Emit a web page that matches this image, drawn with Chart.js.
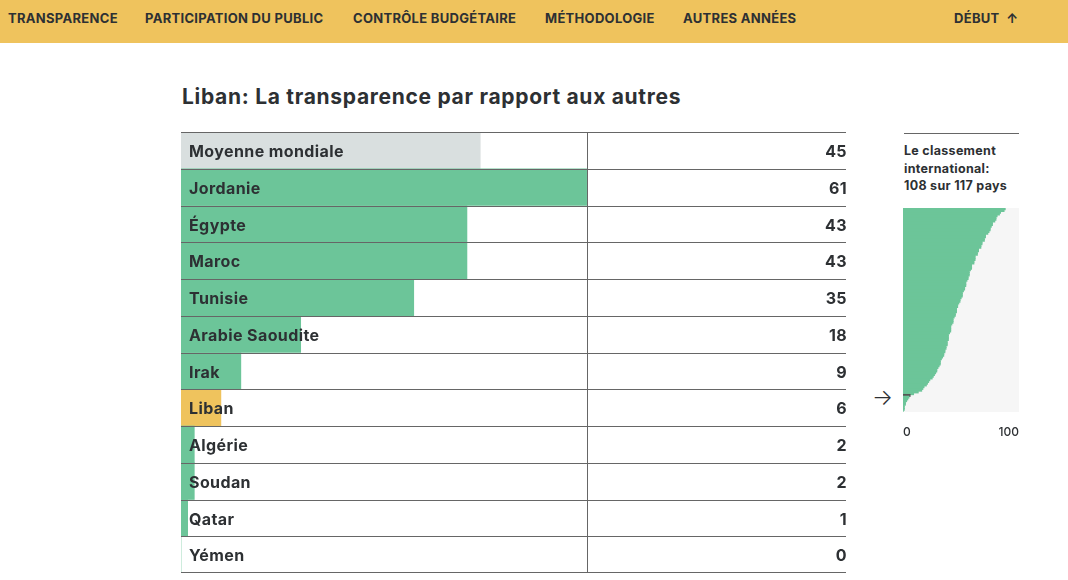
<!DOCTYPE html>
<html lang="fr">
<head>
<meta charset="utf-8">
<title>Liban: La transparence par rapport aux autres</title>
<script src="https://cdn.jsdelivr.net/npm/chart.js@4.4.1/dist/chart.umd.min.js"></script>
<style>
  html, body { margin:0; padding:0; background:#fff; width:1068px; height:580px; overflow:hidden; }
  body { font-family: Inter, "Open Sans", sans-serif; color:#2d3033; position:relative; }
  .nav { position:absolute; left:0; top:0; width:1068px; height:43px; background:#efc35d; }
  .nav span { position:absolute; top:11px; font-size:13px; font-weight:700; letter-spacing:0.3px; line-height:15px; white-space:nowrap; }
  h2 { position:absolute; left:182px; top:84px; margin:0; font-size:21px; font-weight:700; line-height:26px; letter-spacing:0.7px; white-space:nowrap; }
  #mainWrap { position:absolute; left:181px; top:132px; width:665px; height:441px; }
  #miniWrap { position:absolute; left:903px; top:208px; width:116px; height:234px; }
  .miniTitle { position:absolute; left:904px; top:133px; width:115px; border-top:1px solid #666; padding-top:8px; font-size:12.5px; font-weight:700; line-height:17.5px; letter-spacing:0.3px; white-space:nowrap; }
  .arrow { position:absolute; left:872px; top:384px; font-size:22px; font-weight:300; line-height:26px; }
</style>
</head>
<body>
<div class="nav">
  <span style="left:8px">TRANSPARENCE</span>
  <span style="left:145px">PARTICIPATION DU PUBLIC</span>
  <span style="left:353px">CONTRÔLE BUDGÉTAIRE</span>
  <span style="left:545px">MÉTHODOLOGIE</span>
  <span style="left:683px">AUTRES ANNÉES</span>
  <span style="left:954px">DÉBUT&nbsp;&nbsp;↑</span>
</div>
<h2>Liban: La transparence par rapport aux autres</h2>
<div id="mainWrap"><canvas id="mainChart"></canvas></div>
<div class="miniTitle">Le classement<br>international:<br>108 sur 117 pays</div>
<div class="arrow">→</div>
<div id="miniWrap"><canvas id="miniChart"></canvas></div>
<script>
// données — scores de transparence
const COUNTRIES = ["Moyenne mondiale","Jordanie","Égypte","Maroc","Tunisie","Arabie Saoudite","Irak","Liban","Algérie","Soudan","Qatar","Yémen"];
const SCORES = [45, 61, 43, 43, 35, 18, 9, 6, 2, 2, 1, 0];
const AVERAGE_LABEL = "Moyenne mondiale";
const HOME = "Liban";

// classement international, 117 pays (triés)
const WORLD_SCORES = [
  88, 87, 84, 83, 81, 80, 80, 79, 77, 77, 76, 75, 75, 74, 73,
  71, 71, 70, 70, 68, 68, 67, 67, 65, 65, 64, 64, 62, 62, 62, 61, 61,
  59, 59, 59, 58, 57, 57, 57, 56, 56, 55, 54, 54, 54, 53, 53,
  52, 51, 51, 51, 50, 49, 49, 48, 47, 47, 46, 46, 46, 45, 45,
  44, 43, 43, 43, 42, 41, 41, 41, 41, 40, 39, 39, 39, 39, 38, 38, 38,
  37, 37, 36, 36, 35, 35, 34, 33, 32, 32, 32, 31, 30, 29, 29, 28,
  27, 26, 25, 23, 22, 21, 20, 18, 17, 16, 13, 9, 6,
  5, 4, 3, 2, 2, 1, 1, 1, 0
];
const HOME_RANK = 108;
const WORLD_TICKS = [0, 100];

const GREEN = "#6cc599", GREY = "#d9dfdf", YELLOW = "#efc35d", INK = "#2d3033", RULE = "#666";
const FONT = "Inter, 'Open Sans', sans-serif";

const barColors = COUNTRIES.map(c => c === AVERAGE_LABEL ? GREY : (c === HOME ? YELLOW : GREEN));

const tablePlugin = {
  id: "table",
  afterDatasetsDraw(chart){
    const { ctx, chartArea: a, scales: { x, y } } = chart;
    ctx.save();
    ctx.strokeStyle = RULE; ctx.lineWidth = 1;
    // séparateurs de lignes
    for (let i = 0; i <= COUNTRIES.length; i++){
      let yy;
      if (i === 0) yy = a.top + 0.5;
      else if (i === COUNTRIES.length) yy = a.bottom - 0.5;
      else yy = Math.round((y.getPixelForValue(i-1) + y.getPixelForValue(i)) / 2) + 0.5;
      ctx.beginPath(); ctx.moveTo(a.left, yy); ctx.lineTo(a.right + 1, yy); ctx.stroke();
    }
    // trait vertical au maximum
    const vx = Math.round(x.getPixelForValue(Math.max(...SCORES))) + 0.5;
    ctx.beginPath(); ctx.moveTo(vx, a.top); ctx.lineTo(vx, a.bottom); ctx.stroke();
    // textes
    ctx.fillStyle = INK;
    ctx.font = "700 16px " + FONT;
    ctx.letterSpacing = "0.4px";
    ctx.textBaseline = "middle";
    COUNTRIES.forEach((c, i) => {
      const yc = y.getPixelForValue(i) + 2;
      ctx.textAlign = "left"; ctx.fillText(c, a.left + 8, yc);
      ctx.textAlign = "right"; ctx.fillText(String(SCORES[i]), x.getPixelForValue(100) + 1, yc);
    });
    ctx.restore();
  }
};

new Chart(document.getElementById("mainChart"), {
  type: "bar",
  data: { labels: COUNTRIES, datasets: [{ data: SCORES, backgroundColor: barColors, barPercentage: 1, categoryPercentage: 1, borderWidth: 0 }] },
  options: {
    indexAxis: "y", responsive: true, maintainAspectRatio: false, animation: false,
    layout: { padding: 0 },
    plugins: { legend: { display: false }, tooltip: { enabled: false } },
    scales: {
      x: { display: false, min: 0, max: 100 },
      y: { display: false }
    }
  },
  plugins: [tablePlugin]
});

const miniBg = {
  id: "miniBg",
  beforeDatasetsDraw(chart){
    const { ctx, chartArea: a } = chart;
    ctx.save(); ctx.fillStyle = "#f6f6f6";
    ctx.fillRect(a.left, a.top, a.right - a.left, a.bottom - a.top);
    ctx.restore();
  }
};

new Chart(document.getElementById("miniChart"), {
  type: "bar",
  data: {
    labels: WORLD_SCORES.map((_, i) => i + 1),
    datasets: [{
      data: WORLD_SCORES,
      backgroundColor: WORLD_SCORES.map((_, i) => i + 1 === HOME_RANK ? "#555" : GREEN),
      barPercentage: 1, categoryPercentage: 1, borderWidth: 0, inflateAmount: 0.6
    }]
  },
  options: {
    indexAxis: "y", responsive: true, maintainAspectRatio: false, animation: false,
    layout: { padding: 0 },
    plugins: { legend: { display: false }, tooltip: { enabled: false } },
    scales: {
      x: {
        min: 0, max: 100,
        grid: { display: false, drawTicks: false },
        border: { display: false },
        afterBuildTicks: s => { s.ticks = WORLD_TICKS.map(v => ({ value: v })); },
        afterFit: s => { s.height = 30; s.paddingLeft = 0; s.paddingRight = 0; },
        ticks: { align: "inner", padding: 13, maxRotation: 0, color: INK, font: { family: FONT, size: 12, weight: "500" } }
      },
      y: { display: false }
    }
  },
  plugins: [miniBg]
});
</script>
</body>
</html>
